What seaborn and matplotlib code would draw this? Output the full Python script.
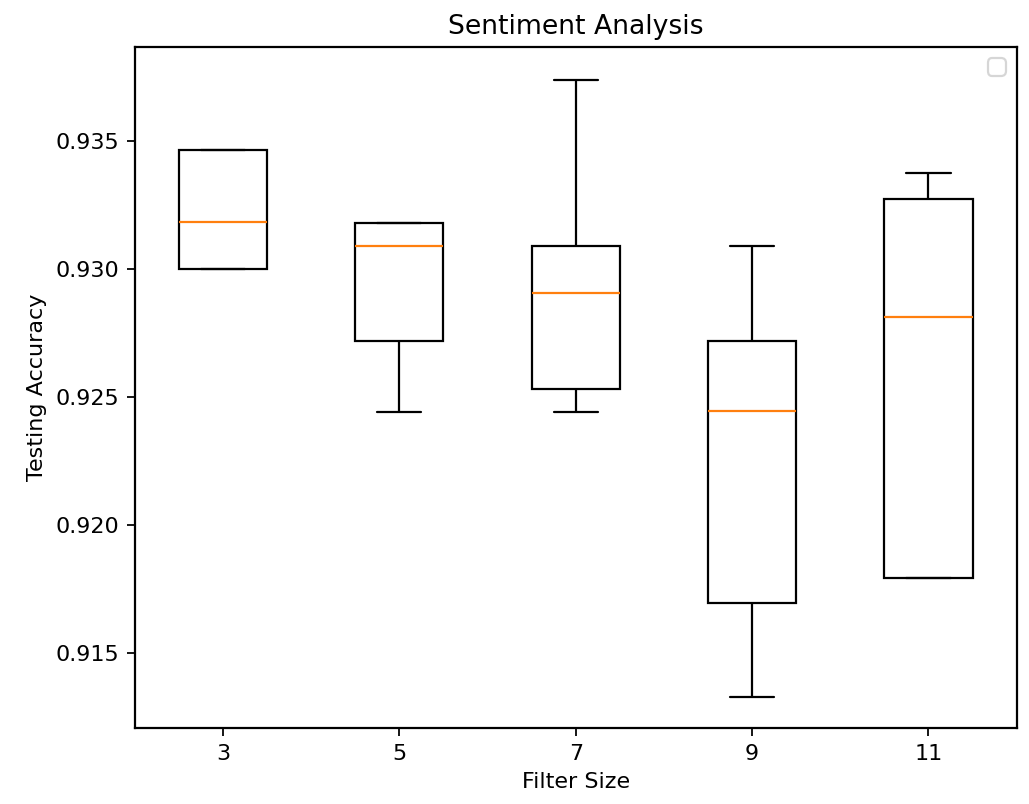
import pandas as pd
import seaborn as sns
import matplotlib
matplotlib.use("Agg")
import matplotlib.pyplot as plt

filter_sizes = ["3", "5", "7", "9", "11"]
acc_3 = [0.93000, 0.93000, 0.93184, 0.93465, 0.93465]
acc_5 = [0.92441, 0.92719, 0.93090, 0.93180, 0.93180]
acc_7 = [0.92441, 0.92531, 0.92906, 0.93090, 0.93738]
acc_9 = [0.91328, 0.91695, 0.92445, 0.92719, 0.93090]
acc_11 = [0.91793, 0.91793, 0.92813, 0.93273, 0.93375]

rows = []
for f, vals in zip(filter_sizes, [acc_3, acc_5, acc_7, acc_9, acc_11]):
    for v in vals:
        rows.append({"Filter Size": f, "Testing Accuracy": v})
df = pd.DataFrame(rows)

sns.set_style("ticks")
plt.rcParams['font.family'] = ['DejaVu Sans']
plt.rcParams['text.color'] = 'black'
plt.rcParams['axes.labelcolor'] = 'black'

fig = plt.figure(figsize=(1029 / 160, 804 / 160), dpi=160)
ax = fig.add_axes([0.131, 0.0945, 0.857, 0.847])

sns.boxplot(data=df, x="Filter Size", y="Testing Accuracy", order=filter_sizes,
            color="white", linecolor="black", linewidth=1, width=0.5,
            medianprops=dict(color="#ff7f0e"), whis=1.5, ax=ax)

ax.set_ylim(0.91207, 0.93867)
ax.set_yticks([0.915, 0.920, 0.925, 0.930, 0.935])
ax.set_xlim(-0.5, 4.5)
for s in ax.spines.values():
    s.set_color("black")
    s.set_linewidth(1)
ax.tick_params(colors="black", labelsize=10)
ax.set_xlabel("Filter Size", fontsize=10, color="black")
ax.set_ylabel("Testing Accuracy", fontsize=10, color="black")
ax.set_title("Sentiment Analysis", fontsize=12, color="black")
ax.legend(loc="upper right")

fig.savefig("out.png", dpi=160)
